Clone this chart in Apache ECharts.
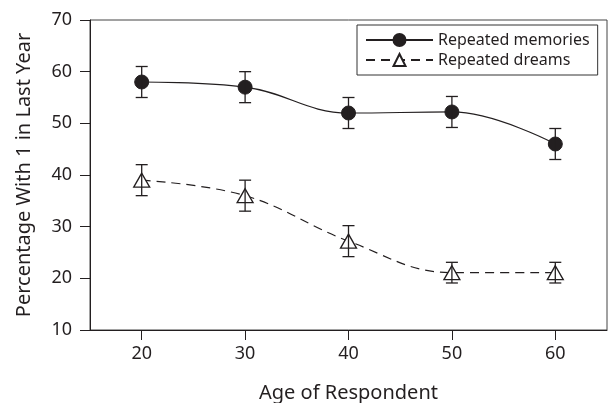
<!DOCTYPE html>
<html>
<head>
<meta charset="utf-8">
<script src="https://cdn.jsdelivr.net/npm/echarts@6/dist/echarts.min.js"></script>
<style>
  html, body { margin: 0; padding: 0; background: #fff; }
  #chart { width: 610px; height: 403px; }
</style>
</head>
<body>
<div id="chart"></div>
<script>
// ages on the x axis
var ages = [20, 30, 40, 50, 60];

// repeated memories: mean and error bar ends
var memories = [58, 57, 52, 52.2, 46];
var memoriesLow = [55, 54, 49, 49.2, 43];
var memoriesHigh = [61, 60, 55, 55.2, 49];

// repeated dreams: mean and error bar ends
var dreams = [39, 36, 27.2, 21.1, 21.1];
var dreamsLow = [36, 33, 24.2, 19.1, 19.1];
var dreamsHigh = [42, 39, 30.2, 23.1, 23.1];

var ink = '#231f20';
var font = 'Noto Sans';

function pairs(xs, ys) {
  return xs.map(function (x, i) { return [x, ys[i]]; });
}

function errorData(xs, lo, hi) {
  return xs.map(function (x, i) { return [x, lo[i], hi[i]]; });
}

function renderError(params, api) {
  var x = api.value(0);
  var lo = api.coord([x, api.value(1)]);
  var hi = api.coord([x, api.value(2)]);
  var half = 6;
  var style = { stroke: ink, lineWidth: 1.3 };
  return {
    type: 'group',
    children: [
      { type: 'line', shape: { x1: lo[0], y1: lo[1], x2: hi[0], y2: hi[1] }, style: style },
      { type: 'line', shape: { x1: lo[0] - half, y1: lo[1], x2: lo[0] + half, y2: lo[1] }, style: style },
      { type: 'line', shape: { x1: hi[0] - half, y1: hi[1], x2: hi[0] + half, y2: hi[1] }, style: style }
    ]
  };
}

var chart = echarts.init(document.getElementById('chart'));
chart.setOption({
  animation: false,
  textStyle: { fontFamily: font, color: ink },
  grid: {
    left: 90, right: 3, top: 20, bottom: 73,
    outerBoundsMode: 'none',
    show: true, borderColor: '#444', borderWidth: 1
  },
  legend: {
    left: 357, top: 25,
    orient: 'vertical',
    padding: [7, 8, 7, 8],
    itemGap: 4,
    itemWidth: 67,
    itemHeight: 15,
    borderColor: '#333',
    borderWidth: 1,
    textStyle: { fontFamily: font, fontSize: 16, color: ink },
    data: ['Repeated memories', 'Repeated dreams']
  },
  xAxis: {
    type: 'value',
    min: 15, max: 65,
    name: 'Age of Respondent',
    nameLocation: 'middle',
    nameGap: 53,
    nameTextStyle: { fontFamily: font, fontSize: 20, color: ink },
    splitLine: { show: false },
    axisLine: { lineStyle: { color: ink, width: 1 } },
    axisTick: { inside: false, length: 10, customValues: ages, lineStyle: { color: ink } },
    axisLabel: { margin: 15, fontSize: 18, color: ink, customValues: ages }
  },
  yAxis: {
    type: 'value',
    min: 10, max: 70, interval: 10,
    name: 'Percentage With 1 in Last Year',
    nameLocation: 'middle',
    nameGap: 56,
    nameTextStyle: { fontFamily: font, fontSize: 20, color: ink },
    splitLine: { show: false },
    axisLine: { show: true, lineStyle: { color: ink, width: 1 } },
    axisTick: { show: true, length: 10, lineStyle: { color: ink } },
    axisLabel: { margin: 18, fontSize: 18, color: ink }
  },
  series: [
    {
      name: 'Repeated memories',
      type: 'line',
      data: pairs(ages, memories),
      smooth: 0.4,
      symbol: 'circle',
      symbolSize: 14,
      lineStyle: { color: ink, width: 1.2 },
      itemStyle: { color: ink, borderColor: ink, borderWidth: 1 },
      z: 3
    },
    {
      name: 'Repeated dreams',
      type: 'line',
      data: pairs(ages, dreams),
      smooth: 0.4,
      symbol: 'triangle',
      symbolSize: [16, 14],
      lineStyle: { color: ink, width: 1.2, type: [9, 6] },
      itemStyle: { color: '#fff', borderColor: ink, borderWidth: 1.3 },
      z: 3
    },
    {
      type: 'custom',
      data: errorData(ages, memoriesLow, memoriesHigh),
      renderItem: renderError,
      z: 4,
      silent: true
    },
    {
      type: 'custom',
      data: errorData(ages, dreamsLow, dreamsHigh),
      renderItem: renderError,
      z: 4,
      silent: true
    }
  ]
});
</script>
</body>
</html>
